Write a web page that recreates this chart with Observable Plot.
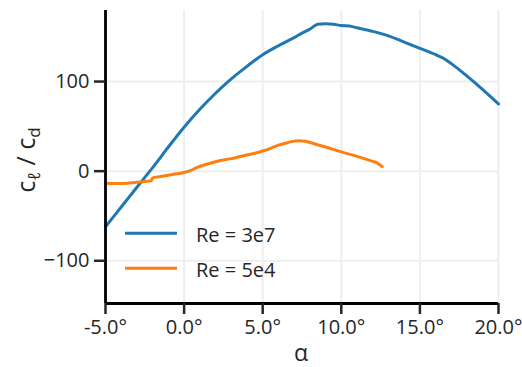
<!DOCTYPE html>
<html>
<head>
<meta charset="utf-8">
<script src="https://cdn.jsdelivr.net/npm/d3@7"></script>
<script src="https://cdn.jsdelivr.net/npm/@observablehq/plot@0.6"></script>
<style>
  html, body { margin: 0; padding: 0; background: #ffffff; }
  #chart { width: 522px; height: 367px; }
</style>
</head>
<body>
<div id="chart"></div>
<script>
// Lift-to-drag ratio versus angle of attack for two Reynolds numbers
const alphaHigh = [-5, -4, -3, -2.5, -2, -1, 0, 1, 2, 3, 4, 5, 6, 7, 7.5, 8, 8.5, 9, 9.5, 10, 10.5, 11, 12, 13, 14, 15, 16, 16.5, 17, 18, 19, 20];
const ratioHigh = [-62, -40, -18, -7, 4, 27, 49, 69, 87, 103, 117, 130, 140, 149, 154, 158.5, 164, 164.5, 164, 162.5, 162, 160, 156, 151, 144, 137, 130, 126, 120, 106, 91, 75];

const alphaLow = [-5, -4.5, -4, -3.5, -3, -2.5, -2.1, -2.0, -1.5, -1, -0.5, 0, 0.4, 0.8, 1.5, 2, 2.5, 3, 3.5, 4, 4.5, 5, 5.5, 6, 6.5, 7, 7.3, 7.7, 8, 9, 10, 11, 12, 12.3, 12.6];
const ratioLow = [-13.5, -13.8, -13.8, -13.3, -12.5, -11.5, -10.8, -7.5, -6, -4.5, -3, -1.5, 0.5, 4, 8, 10.5, 12.5, 14, 16, 18, 20, 22.5, 25.5, 29, 31.5, 33.5, 34, 33.5, 32, 27, 21.5, 16.5, 11, 9, 5];

const seriesNames = ["Re = 3e7", "Re = 5e4"];
const seriesColors = ["#1f77b4", "#ff7f0e"];
const xDomain = [-5, 20];
const yDomain = [-147.7, 179.3];
const xTicks = [-5, 0, 5, 10, 15, 20];
const yTicks = [-100, 0, 100];

const rows = [
  ...alphaHigh.map((a, i) => ({alpha: a, ratio: ratioHigh[i], series: seriesNames[0]})),
  ...alphaLow.map((a, i) => ({alpha: a, ratio: ratioLow[i], series: seriesNames[1]}))
];

const ink = "#262626";
const gridColor = "#eeeeee";

const chart = Plot.plot({
  width: 522,
  height: 367,
  marginLeft: 105,
  marginRight: 24,
  marginTop: 10,
  marginBottom: 64,
  style: {fontFamily: "'Open Sans', sans-serif", fontSize: "20px", color: ink, background: "#ffffff", overflow: "visible"},
  x: {domain: xDomain, label: null},
  y: {domain: yDomain, label: null},
  color: {domain: seriesNames, range: seriesColors},
  marks: [
    Plot.gridX(xTicks, {stroke: gridColor, strokeOpacity: 1, strokeWidth: 2}),
    Plot.gridY(yTicks, {stroke: gridColor, strokeOpacity: 1, strokeWidth: 2}),
    Plot.line(rows, {x: "alpha", y: "ratio", z: "series", stroke: "series", strokeWidth: 3, strokeLinejoin: "round", curve: "monotone-x"}),
    Plot.ruleX([xDomain[0]], {stroke: "#000000", strokeWidth: 2.8}),
    Plot.ruleY([yDomain[0]], {stroke: "#000000", strokeWidth: 2.8}),
    Plot.axisX(xTicks, {tickSize: 11, tickPadding: 5, strokeWidth: 2.5, stroke: ink, tickFormat: d => d.toFixed(1) + "°", label: null}),
    Plot.axisY(yTicks, {tickSize: 11, tickPadding: 5, strokeWidth: 2.5, stroke: ink, label: null})
  ]
});

document.getElementById("chart").append(chart);

const svg = d3.select(chart);

// x axis title
svg.append("text")
  .attr("x", 301)
  .attr("y", 361)
  .attr("text-anchor", "middle")
  .attr("fill", ink)
  .attr("font-size", 23)
  .text("α");

// y axis title with subscripts
const yTitle = svg.append("text")
  .attr("transform", "translate(35,160) rotate(-90)")
  .attr("text-anchor", "middle")
  .attr("fill", ink)
  .attr("font-size", 25);
yTitle.append("tspan").text("c");
yTitle.append("tspan").attr("dy", 5).attr("font-size", 17).text("ℓ");
yTitle.append("tspan").attr("dy", -5).text(" / c");
yTitle.append("tspan").attr("dy", 5).attr("font-size", 17).text("d");

// legend
const legend = svg.append("g").attr("text-anchor", "start");
seriesNames.forEach((name, i) => {
  const cy = 233.3 + i * 35;
  legend.append("line")
    .attr("x1", 125).attr("x2", 177)
    .attr("y1", cy).attr("y2", cy)
    .attr("stroke", seriesColors[i])
    .attr("stroke-width", 3);
  legend.append("text")
    .attr("x", 196)
    .attr("y", cy + 8.5)
    .attr("text-anchor", "start")
    .attr("fill", ink)
    .attr("font-size", 20)
    .text(name);
});
</script>
</body>
</html>
